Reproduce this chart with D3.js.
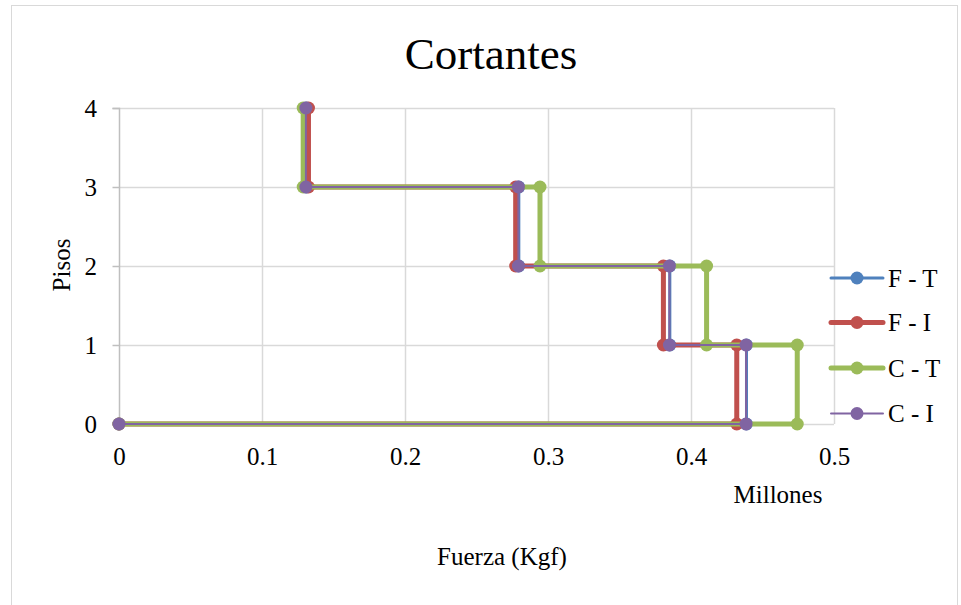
<!DOCTYPE html>
<html>
<head>
<meta charset="utf-8">
<script src="https://cdn.jsdelivr.net/npm/d3@7/dist/d3.min.js"></script>
<style>
html,body{margin:0;padding:0;background:#fff;}
svg{display:block;}
svg text{font-family:"Liberation Serif","Times New Roman",Times,"DejaVu Serif",serif;}
</style>
</head>
<body>
<svg id="chart" width="961" height="605"></svg>
<script>
// ---- data ----
const pisos = [0, 0, 1, 1, 2, 2, 3, 3, 4];
const fuerzaFT = [0, 0.4388, 0.4388, 0.3852, 0.3852, 0.2796, 0.2796, 0.1310, 0.1310];
const fuerzaFI = [0, 0.4320, 0.4320, 0.3807, 0.3807, 0.2774, 0.2774, 0.1325, 0.1325];
const fuerzaCT = [0, 0.4743, 0.4743, 0.4109, 0.4109, 0.2944, 0.2944, 0.1288, 0.1288];
const fuerzaCI = [0, 0.4385, 0.4385, 0.3849, 0.3849, 0.2793, 0.2793, 0.1307, 0.1307];
const seriesNames = ["F - T", "F - I", "C - T", "C - I"];
const xTicks = [0, 0.1, 0.2, 0.3, 0.4, 0.5];
const yTicks = [0, 1, 2, 3, 4];

const series = [
  {name: seriesNames[0], x: fuerzaFT, color: "#4F81BD", w: 3},
  {name: seriesNames[1], x: fuerzaFI, color: "#C0504D", w: 5},
  {name: seriesNames[2], x: fuerzaCT, color: "#9BBB59", w: 5},
  {name: seriesNames[3], x: fuerzaCI, color: "#8064A2", w: 2}
];

const svg = d3.select("#chart");
const FF = '"Liberation Serif","Times New Roman",Times,"DejaVu Serif",serif';
const FS = "25px";

// outer border
svg.append("rect").attr("x", 11.5).attr("y", 5.5).attr("width", 946).attr("height", 610)
  .attr("fill", "#fff").attr("stroke", "#d9d9d9").attr("stroke-width", 1);

const x = d3.scaleLinear().domain([0, 0.5]).range([119, 834]);
const y = d3.scaleLinear().domain([0, 4]).range([424, 108]);

// gridlines
const g = svg.append("g");
g.selectAll(".vg").data(xTicks.slice(1)).enter().append("line")
  .attr("x1", d => Math.round(x(d)) + 0.5).attr("x2", d => Math.round(x(d)) + 0.5)
  .attr("y1", y(4)).attr("y2", y(0))
  .attr("stroke", "#d9d9d9").attr("stroke-width", 1.5);
g.selectAll(".hg").data(yTicks).enter().append("line")
  .attr("x1", x(0)).attr("x2", x(0.5))
  .attr("y1", d => Math.round(y(d)) + 0.5).attr("y2", d => Math.round(y(d)) + 0.5)
  .attr("stroke", "#d9d9d9").attr("stroke-width", 1.5);

// y axis
const yAxis = d3.axisLeft(y).tickValues(yTicks).tickFormat(d3.format("d")).tickSize(7).tickPadding(15.5);
const ya = svg.append("g").attr("transform", `translate(${Math.round(x(0)) + 0.5},0)`).call(yAxis);
ya.attr("font-family", null);
ya.select(".domain").attr("stroke", "#bfbfbf").attr("stroke-width", 1.5).attr("d", `M-7,${y(4)+0.5}H0V${y(0)}`);
ya.selectAll(".tick line").attr("stroke", "#bfbfbf").attr("stroke-width", 1.5);
ya.selectAll("text").style("font-family", FF).style("font-size", FS).attr("fill", "#000");

// x axis
const xAxis = d3.axisBottom(x).tickValues(xTicks).tickFormat(d => d === 0 ? "0" : d3.format(".1f")(d)).tickSize(0).tickPadding(23);
const xa = svg.append("g").attr("transform", `translate(0,${y(0)})`).call(xAxis);
xa.attr("font-family", null);
xa.select(".domain").remove();
xa.selectAll("text").style("font-family", FF).style("font-size", FS).attr("fill", "#000");

// series
const line = d3.line().x(d => x(d[0])).y(d => y(d[1]));
series.forEach(s => {
  const pts = s.x.map((v, i) => [v, pisos[i]]);
  const sg = svg.append("g");
  sg.append("path").datum(pts).attr("d", line).attr("fill", "none")
    .attr("stroke", s.color).attr("stroke-width", s.w).attr("stroke-linejoin", "round");
  sg.selectAll("circle").data(pts).enter().append("circle")
    .attr("cx", d => x(d[0])).attr("cy", d => y(d[1])).attr("r", 6.5).attr("fill", s.color);
});

// title
svg.append("text").attr("x", 491).attr("y", 69).attr("text-anchor", "middle")
  .style("font-family", FF).style("font-size", "45px").attr("fill", "#000").text("Cortantes");

// axis titles
svg.append("text").attr("transform", "translate(70,265) rotate(-90)").attr("text-anchor", "middle")
  .style("font-family", FF).style("font-size", FS).attr("fill", "#000").text("Pisos");
svg.append("text").attr("x", 778).attr("y", 503).attr("text-anchor", "middle")
  .style("font-family", FF).style("font-size", FS).attr("fill", "#000").text("Millones");
svg.append("text").attr("x", 502).attr("y", 565).attr("text-anchor", "middle")
  .style("font-family", FF).style("font-size", FS).attr("fill", "#000").text("Fuerza (Kgf)");

// legend
const legY = [278, 322.5, 368, 413.5];
series.forEach((s, i) => {
  const lg = svg.append("g").attr("transform", `translate(0,${legY[i]})`);
  lg.append("line").attr("x1", 831).attr("x2", 883).attr("y1", 0).attr("y2", 0)
    .attr("stroke", s.color).attr("stroke-width", s.w).attr("stroke-linecap", "round");
  lg.append("circle").attr("cx", 857).attr("cy", 0).attr("r", 6.5).attr("fill", s.color);
  lg.append("text").attr("x", 888).attr("y", 8.5).style("font-family", FF).style("font-size", FS)
    .attr("fill", "#000").text(s.name);
});
</script>
</body>
</html>
